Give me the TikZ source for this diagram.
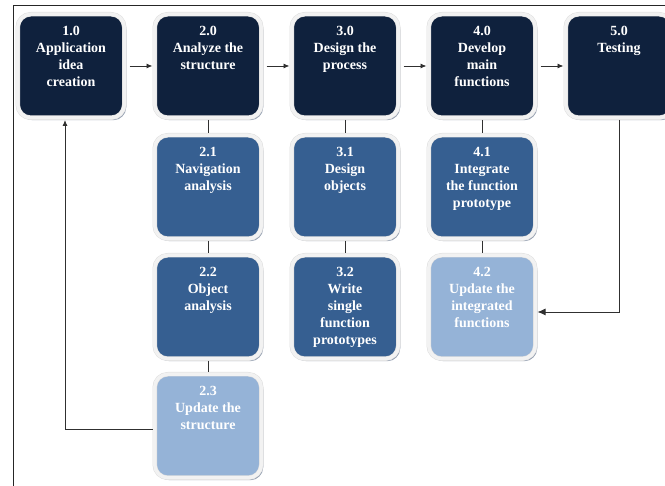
\documentclass[tikz,border=0pt]{standalone}
\usepackage{fontspec}
\setmainfont{Liberation Serif}
\usetikzlibrary{shadows,arrows.meta}
\definecolor{navy}{HTML}{0F213D}
\definecolor{midblue}{HTML}{365F91}
\definecolor{lightblue}{HTML}{95B3D7}
\definecolor{framegray}{HTML}{F2F2F2}
\definecolor{edgegray}{HTML}{DDDDDD}
\definecolor{shadowgray}{HTML}{96A1B3}
\definecolor{linegray}{HTML}{303030}
\tikzset{
 taskbox/.style={rectangle, rounded corners=13pt, minimum width=106.5pt, minimum height=103.5pt,
   inner sep=0pt, outer sep=2.25pt, draw=edgegray, line width=0.5pt, double=framegray,
   double distance=3.5pt, text=white, font=\bfseries\fontsize{14}{17}\selectfont,
   drop shadow={shadow xshift=2pt, shadow yshift=-2.5pt, fill=shadowgray, opacity=1}},
 dark/.style={taskbox, fill=navy},
 mid/.style={taskbox, fill=midblue},
 light/.style={taskbox, fill=lightblue},
 flow/.style={draw=linegray, line width=0.9pt, -{Latex[length=6pt,width=5pt]}},
 link/.style={draw=linegray, line width=0.9pt},
 frameline/.style={draw=black!85, line width=0.8pt},
}
\newcommand{\boxtext}[1]{\parbox[t][80pt][t]{100pt}{\centering #1}}
\begin{document}
\begin{tikzpicture}[x=1pt,y=-1pt]
\useasboundingbox (0,0) rectangle (665,486);
\draw[frameline] (13,486) -- (13,5) -- (665,5);

\node[dark] (b10) at (71,66) {\boxtext{1.0\\Application\\idea\\creation}};
\node[dark] (b20) at (208,66) {\boxtext{2.0\\Analyze the\\structure}};
\node[dark] (b30) at (345,66) {\boxtext{3.0\\Design the\\process}};
\node[dark] (b40) at (482,66) {\boxtext{4.0\\Develop\\main\\functions}};
\node[dark] (b50) at (619,66) {\boxtext{5.0\\Testing}};

\node[mid] (b21) at (208,187) {\boxtext{2.1\\Navigation\\analysis}};
\node[mid] (b31) at (345,187) {\boxtext{3.1\\Design\\objects}};
\node[mid] (b41) at (482,187) {\boxtext{4.1\\Integrate\\the function\\prototype}};

\node[mid] (b22) at (208,307) {\boxtext{2.2\\Object\\analysis}};
\node[mid] (b32) at (345,307) {\boxtext{3.2\\Write\\single\\function\\prototypes}};
\node[light] (b42) at (482,307) {\boxtext{4.2\\Update the\\integrated\\functions}};

\node[light] (b23) at (208,426) {\boxtext{2.3\\Update the\\structure}};

\draw[flow] ([xshift=3pt]b10.east) -- (b20.west);
\draw[flow] ([xshift=3pt]b20.east) -- (b30.west);
\draw[flow] ([xshift=3pt]b30.east) -- (b40.west);
\draw[flow] ([xshift=3pt]b40.east) -- (b50.west);

\draw[link] (b20.south) -- (b21.north);
\draw[link] (b21.south) -- (b22.north);
\draw[link] (b22.south) -- (b23.north);
\draw[link] (b30.south) -- (b31.north);
\draw[link] (b31.south) -- (b32.north);
\draw[link] (b40.south) -- (b41.north);
\draw[link] (b41.south) -- (b42.north);

\draw[flow, -{Latex[length=8pt,width=7pt]}] (b50.south) |- ([yshift=-5pt]b42.east);
\draw[flow] ([yshift=-3pt]b23.west) -| ([xshift=-6pt]b10.south);
\end{tikzpicture}
\end{document}
